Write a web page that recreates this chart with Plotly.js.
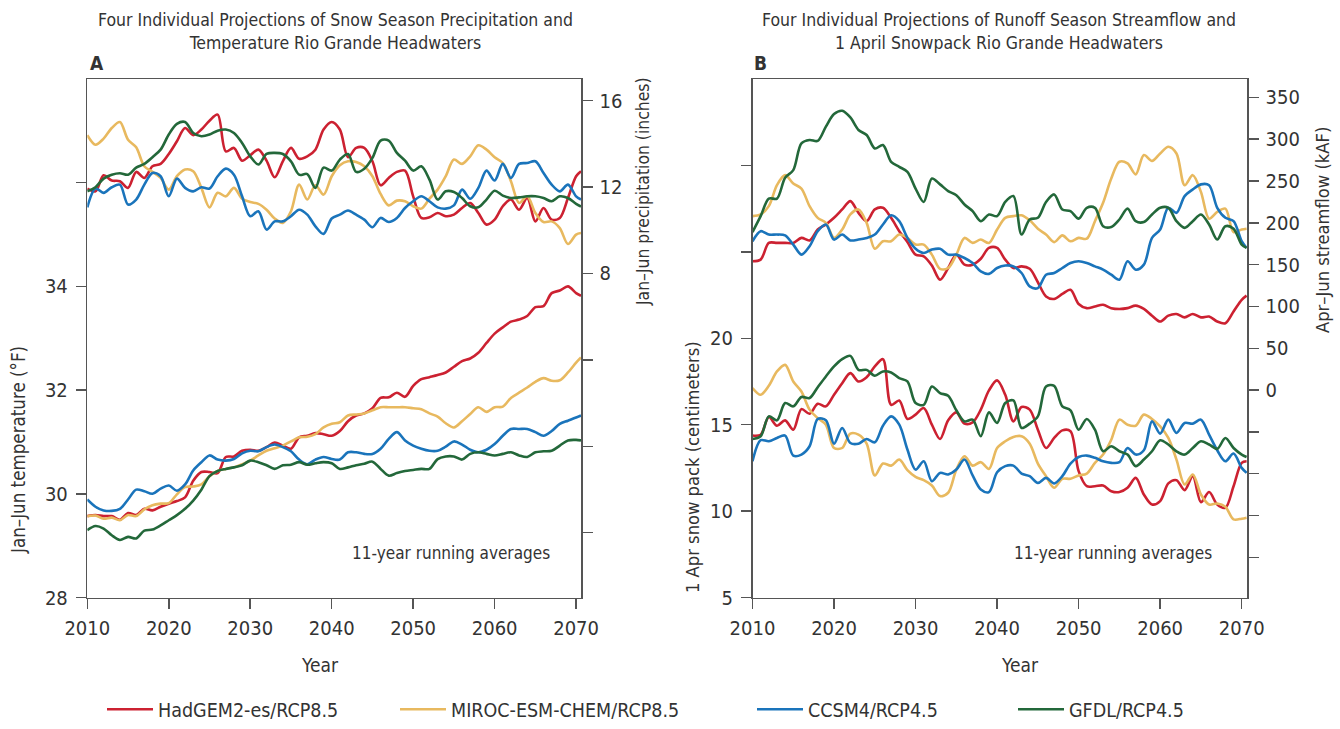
<!DOCTYPE html>
<html>
<head>
<meta charset="utf-8">
<script src="https://cdn.plot.ly/plotly-3.0.1.min.js"></script>
<style>
html,body{margin:0;padding:0;background:#fff;}
#chart{width:1340px;height:729px;}
</style>
</head>
<body>
<div id="chart"></div>
<script>
// ---- Data (11-year running averages) ----
const years = [2010,2011,2012,2013,2014,2015,2016,2017,2018,2019,2020,2021,2022,2023,2024,2025,2026,2027,2028,2029,2030,2031,2032,2033,2034,2035,2036,2037,2038,2039,2040,2041,2042,2043,2044,2045,2046,2047,2048,2049,2050,2051,2052,2053,2054,2055,2056,2057,2058,2059,2060,2061,2062,2063,2064,2065,2066,2067,2068,2069,2070,2070.6];

const models = ["HadGEM2-es/RCP8.5","MIROC-ESM-CHEM/RCP8.5","CCSM4/RCP4.5","GFDL/RCP4.5"];
const colors = ["#cc2131","#e8b95f","#1a74bb","#23683a"];

// Panel A: Jan–Jun precipitation (inches)
const precipHad = [11.93,11.8,12.54,12.3,12.27,11.96,12.7,12.42,12.96,13.07,13.53,14.12,14.73,14.4,14.66,15.07,15.35,13.65,13.81,13.22,13.47,13.73,13.22,12.45,13.19,13.81,13.31,13.42,13.73,14.66,15.01,14.66,13.38,13.81,13.81,13.19,12.08,12.42,12.7,12.76,11.57,10.57,10.6,10.8,10.65,10.72,11.03,11.26,10.8,10.26,10.49,11.11,11.42,10.95,11.49,10.41,11.03,10.49,10.57,11.49,12.5,12.73];
const precipMiroc = [14.4,13.96,14.24,14.73,15.01,14.19,13.84,12.96,12.7,12.42,11.88,12.5,12.81,12.73,11.96,11.06,11.73,11.57,11.96,11.46,11.31,11.22,10.95,10.54,10.34,10.88,12.11,11.42,12.08,11.65,12.5,13.01,13.19,13.16,12.96,12.5,11.68,11.15,11.37,11.34,11.11,11.0,11.46,11.88,12.5,13.27,13.07,13.42,13.93,13.73,13.38,13.11,12.27,11.26,11.57,10.8,10.38,10.41,10.1,9.36,9.8,9.87];
const precipCcsm = [11.06,11.93,11.73,11.99,12.11,11.19,11.42,12.11,12.65,12.5,11.57,12.39,11.96,11.8,11.99,11.93,12.5,12.85,12.57,11.57,10.65,10.88,10.03,10.41,10.41,10.65,10.95,10.72,10.18,9.83,10.54,10.72,10.91,10.72,10.49,10.14,10.57,10.38,10.57,11.03,11.34,11.57,11.34,11.06,11.0,11.15,11.88,11.46,11.96,12.76,12.3,13.07,12.42,13.07,13.11,13.19,12.65,12.11,11.8,12.11,11.57,11.42];
const precipGfdl = [11.8,11.99,12.39,12.57,12.64,12.57,12.9,13.07,13.38,13.73,14.43,14.92,15.01,14.5,14.35,14.43,14.61,14.66,14.5,14.04,13.42,13.04,13.53,13.58,13.53,13.19,12.57,12.6,11.96,12.9,12.76,13.27,13.53,12.7,12.85,13.35,14.15,14.15,13.58,13.22,12.76,12.96,12.34,11.42,11.8,11.77,11.49,11.11,11.06,11.42,11.83,11.6,11.49,11.52,11.57,11.57,11.49,11.34,11.57,11.49,11.22,11.1];

// Panel A: Jan–Jun temperature (°F)
const tempHad = [29.57,29.59,29.57,29.57,29.5,29.63,29.59,29.71,29.68,29.75,29.81,29.86,29.93,30.25,30.42,30.42,30.4,30.71,30.72,30.83,30.85,30.83,30.9,30.99,30.93,30.87,31.09,31.12,31.17,31.15,31.12,31.21,31.4,31.51,31.55,31.65,31.85,31.86,31.95,31.87,32.08,32.21,32.25,32.29,32.34,32.45,32.56,32.61,32.72,32.91,33.09,33.21,33.32,33.36,33.43,33.6,33.62,33.87,33.92,34.0,33.87,33.82];
const tempMiroc = [29.57,29.58,29.52,29.54,29.49,29.59,29.57,29.7,29.78,29.81,29.82,29.99,30.13,30.14,30.18,30.34,30.44,30.48,30.51,30.57,30.64,30.74,30.83,30.88,30.93,31.01,31.09,31.1,31.15,31.28,31.35,31.38,31.51,31.53,31.55,31.61,31.67,31.67,31.67,31.67,31.65,31.63,31.55,31.49,31.36,31.28,31.4,31.54,31.67,31.58,31.67,31.68,31.85,31.95,32.05,32.16,32.23,32.18,32.19,32.34,32.53,32.63];
const tempCcsm = [29.89,29.75,29.68,29.67,29.71,29.89,30.08,30.05,30.0,30.1,30.16,30.06,30.18,30.45,30.61,30.74,30.66,30.64,30.67,30.78,30.83,30.82,30.9,30.95,30.9,30.82,30.66,30.57,30.66,30.71,30.67,30.66,30.8,30.8,30.77,30.77,30.87,31.06,31.19,31.03,30.93,30.87,30.83,30.83,30.91,31.01,30.95,30.85,30.8,30.85,30.96,31.12,31.25,31.25,31.25,31.19,31.12,31.21,31.35,31.41,31.47,31.51];
const tempGfdl = [29.3,29.38,29.33,29.2,29.11,29.17,29.14,29.29,29.31,29.39,29.49,29.59,29.71,29.87,30.08,30.34,30.44,30.48,30.51,30.55,30.64,30.61,30.55,30.48,30.55,30.56,30.61,30.56,30.59,30.61,30.59,30.48,30.51,30.55,30.58,30.62,30.48,30.35,30.4,30.44,30.46,30.48,30.48,30.67,30.72,30.72,30.66,30.77,30.8,30.77,30.74,30.77,30.8,30.74,30.71,30.8,30.82,30.83,30.93,31.03,31.04,31.03];

// Panel B: Apr–Jun streamflow (kAF)
const flowHad = [154,156,176,176,176,176,182,179,192,198,206,216,226,212,202,216,218,206,190,177,162,160,149,132,146,162,150,150,157,170,170,156,146,148,145,129,112,109,115,120,103,98,100,102,98,97,98,101,97,89,82,89,91,87,91,87,88,82,80,94,108,113];
const flowMiroc = [208,210,220,245,257,247,241,220,206,200,182,192,210,216,200,169,178,178,186,182,174,174,162,145,146,162,182,176,180,176,192,206,208,209,203,193,186,177,185,178,182,181,202,224,253,273,271,258,281,274,283,291,283,245,257,237,205,213,217,189,192,193];
const flowCcsm = [178,190,186,186,185,174,162,172,190,198,180,186,179,180,182,186,198,209,202,182,169,164,168,169,162,162,158,152,142,139,146,149,148,140,124,122,138,140,146,152,154,152,148,144,138,132,154,144,150,182,192,218,212,232,240,246,245,218,206,202,178,170];
const flowGfdl = [189,208,229,229,254,263,295,299,298,315,330,334,326,311,305,289,293,273,267,261,241,225,253,246,238,233,222,214,202,210,208,225,232,186,204,206,225,234,216,214,205,218,218,196,195,204,217,202,201,210,218,218,202,194,202,210,198,180,196,193,174,170];

// Panel B: 1 Apr snow pack (centimeters)
const snowHad = [14.37,14.42,15.44,14.94,15.25,14.71,15.9,15.63,16.21,16.06,16.73,17.4,17.98,17.5,17.75,18.37,18.79,16.15,16.4,15.33,15.58,15.96,15.0,14.17,15.25,15.71,15.06,15.13,15.87,16.98,17.56,16.73,15.19,16.02,15.87,14.71,13.65,14.23,14.67,14.62,12.31,11.44,11.44,11.48,11.15,11.1,11.35,11.92,10.96,10.38,10.58,11.6,11.79,11.21,12.02,10.52,11.1,10.38,10.19,11.44,12.79,12.88];
const snowMiroc = [17.12,16.73,17.25,18.08,18.46,17.5,16.92,15.87,15.38,15.0,13.65,13.65,14.48,14.42,13.9,12.06,12.75,12.63,12.98,12.37,11.98,11.79,11.48,10.87,11.06,12.4,13.17,12.63,12.83,12.44,13.65,14.04,14.29,14.33,13.9,12.75,12.02,11.35,11.87,11.87,12.06,12.17,12.79,13.27,14.13,15.29,15.0,14.94,15.58,15.33,14.9,14.23,12.98,11.54,12.12,10.96,10.38,10.44,10.25,9.52,9.56,9.62];
const snowCcsm = [12.88,14.1,14.04,14.23,14.37,13.21,13.27,13.75,15.33,15.25,13.9,14.81,13.94,13.9,14.17,13.98,14.94,15.48,15.0,13.56,12.4,12.88,11.73,12.21,12.12,12.4,12.98,12.06,11.25,11.1,12.25,12.6,12.63,12.17,12.02,11.63,11.92,11.6,12.02,12.75,13.13,13.21,13.08,12.88,12.79,12.83,13.65,13.27,13.52,15.19,14.48,15.29,14.52,15.1,15.06,15.29,14.42,13.52,12.88,13.33,12.5,12.21];
const snowGfdl = [14.17,14.33,15.48,15.25,16.25,16.06,16.6,16.54,17.17,17.79,18.37,18.79,18.98,18.17,18.17,17.83,18.08,18.02,17.69,17.5,16.25,16.15,17.21,16.83,16.67,15.83,15.19,15.29,14.33,15.71,15.1,16.25,16.4,14.81,15.06,15.48,17.21,17.25,16.06,15.83,14.71,15.33,14.71,13.46,13.75,13.46,13.27,12.6,12.98,13.46,14.1,13.85,13.46,13.27,13.65,14.04,13.85,13.6,14.23,13.65,13.27,13.13];

// Tick labels
const tempTicks = [28,30,32,34,36], tempLabels = ["28","30","32","34",""];
const precipTicks = [-4,0,4,8,12,16], precipLabels = ["","","","8","12","16"];
const snowTicks = [5,10,15,20,25,30], snowLabels = ["5","10","15","20","",""];
const flowTicks = [-200,-150,-100,-50,0,50,100,150,200,250,300,350];
const flowLabels = ["","","","","0","50","100","150","200","250","300","350"];
const yearTicks = [2010,2020,2030,2040,2050,2060,2070];

// ---- Layout helpers ----
const W = 1340, H = 729;
const px = v => v / W, py = v => 1 - v / H;
const FONT = "Liberation Sans Narrow, DejaVu Sans Condensed, Arial Narrow, sans-serif";
const TXT = "#333333";
const AX = "#555555";

const precipSeries = [precipHad, precipMiroc, precipCcsm, precipGfdl];
const tempSeries = [tempHad, tempMiroc, tempCcsm, tempGfdl];
const flowSeries = [flowHad, flowMiroc, flowCcsm, flowGfdl];
const snowSeries = [snowHad, snowMiroc, snowCcsm, snowGfdl];
const legendIds = ["legend","legend2","legend3","legend4"];

const traces = [];
function addSet(series, xa, ya, withLegend) {
  series.forEach((vals, i) => {
    const t = {
      x: years, y: vals, type: "scatter", mode: "lines",
      xaxis: xa, yaxis: ya, name: models[i],
      line: {color: colors[i], width: 2.6, shape: "spline", smoothing: 0.9},
      showlegend: withLegend, hoverinfo: "x+y+name"
    };
    if (withLegend) t.legend = legendIds[i];
    traces.push(t);
  });
}
addSet(precipSeries, "x", "y2", true);
addSet(tempSeries, "x", "y", false);
addSet(flowSeries, "x2", "y4", false);
addSet(snowSeries, "x2", "y3", false);

const yDom = [py(597.5), py(79)];
const baseAxis = {
  showgrid: false, zeroline: false, showline: true, linecolor: AX, linewidth: 1.5,
  ticks: "outside", tickcolor: AX, tickwidth: 1.5, ticklen: 10,
  tickfont: {family: FONT, size: 20, color: TXT}, automargin: false, fixedrange: true
};
function ax(extra) { return Object.assign({}, baseAxis, extra); }

const layout = {
  width: W, height: H,
  margin: {l: 0, r: 0, t: 0, b: 0, pad: 0},
  paper_bgcolor: "#ffffff", plot_bgcolor: "#ffffff",
  font: {family: FONT, color: TXT, size: 19},
  xaxis: ax({domain: [px(87.3), px(581)], range: [2010, 2070.6], anchor: "y", mirror: true,
            tickmode: "array", tickvals: yearTicks, ticklabelstandoff: 2}),
  yaxis: ax({domain: yDom, range: [28, 38], anchor: "x", side: "left",
            tickmode: "array", tickvals: tempTicks, ticktext: tempLabels, ticklabelstandoff: 4}),
  yaxis2: ax({range: [-7, 17], overlaying: "y", anchor: "x", side: "right",
            tickmode: "array", tickvals: precipTicks, ticktext: precipLabels, ticklabelstandoff: 3}),
  xaxis2: ax({domain: [px(752.5), px(1247)], range: [2010, 2070.65], anchor: "y3", mirror: true,
            tickmode: "array", tickvals: yearTicks, ticklabelstandoff: 2}),
  yaxis3: ax({domain: yDom, range: [5, 35], anchor: "x2", side: "left",
            tickmode: "array", tickvals: snowTicks, ticktext: snowLabels, ticklabelstandoff: 4}),
  yaxis4: ax({range: [-248, 372], overlaying: "y3", anchor: "x2", side: "right",
            tickmode: "array", tickvals: flowTicks, ticktext: flowLabels, ticklabelstandoff: 3}),
  annotations: [],
  showlegend: true
};

// one legend per model so that each entry sits where it does in the reference
const legendX = [102, 395, 752, 1013];
legendIds.forEach((id, i) => {
  layout[id] = {
    x: px(legendX[i]), y: 0, xanchor: "left", yanchor: "bottom",
    orientation: "h", bgcolor: "rgba(0,0,0,0)", borderwidth: 0,
    font: {family: FONT, size: 19.5, color: TXT}, itemwidth: 46
  };
});

function note(text, x, y, size, opts) {
  layout.annotations.push(Object.assign({
    text: text, x: px(x), y: py(y), xref: "paper", yref: "paper",
    showarrow: false, xanchor: "center", yanchor: "middle",
    font: {family: FONT, size: size, color: TXT}
  }, opts || {}));
}
note("Four Individual Projections of Snow Season Precipitation and<br>Temperature Rio Grande Headwaters", 335, 31.5, 17.5);
note("Four Individual Projections of Runoff Season Streamflow and<br>1 April Snowpack Rio Grande Headwaters", 999, 31.5, 17.5);
note("<b>A</b>", 88, 63, 19, {xanchor: "left"});
note("<b>B</b>", 752, 63, 19, {xanchor: "left"});
note("Jan–Jun temperature (°F)", 18, 450, 18.6, {textangle: -90});
note("Jan–Jun precipitation (inches)", 643, 192, 17.4, {textangle: -90});
note("1 Apr snow pack (centimeters)", 692, 467, 18.2, {textangle: -90});
note("Apr–Jun streamflow (kAF)", 1322, 230, 18.2, {textangle: -90});
note("Year", 320, 665, 19);
note("Year", 1020, 665, 19);
note("11-year running averages", 451, 553, 17);
note("11-year running averages", 1113, 553, 17);

Plotly.newPlot("chart", traces, layout, {staticPlot: true, displayModeBar: false});
</script>
</body>
</html>
